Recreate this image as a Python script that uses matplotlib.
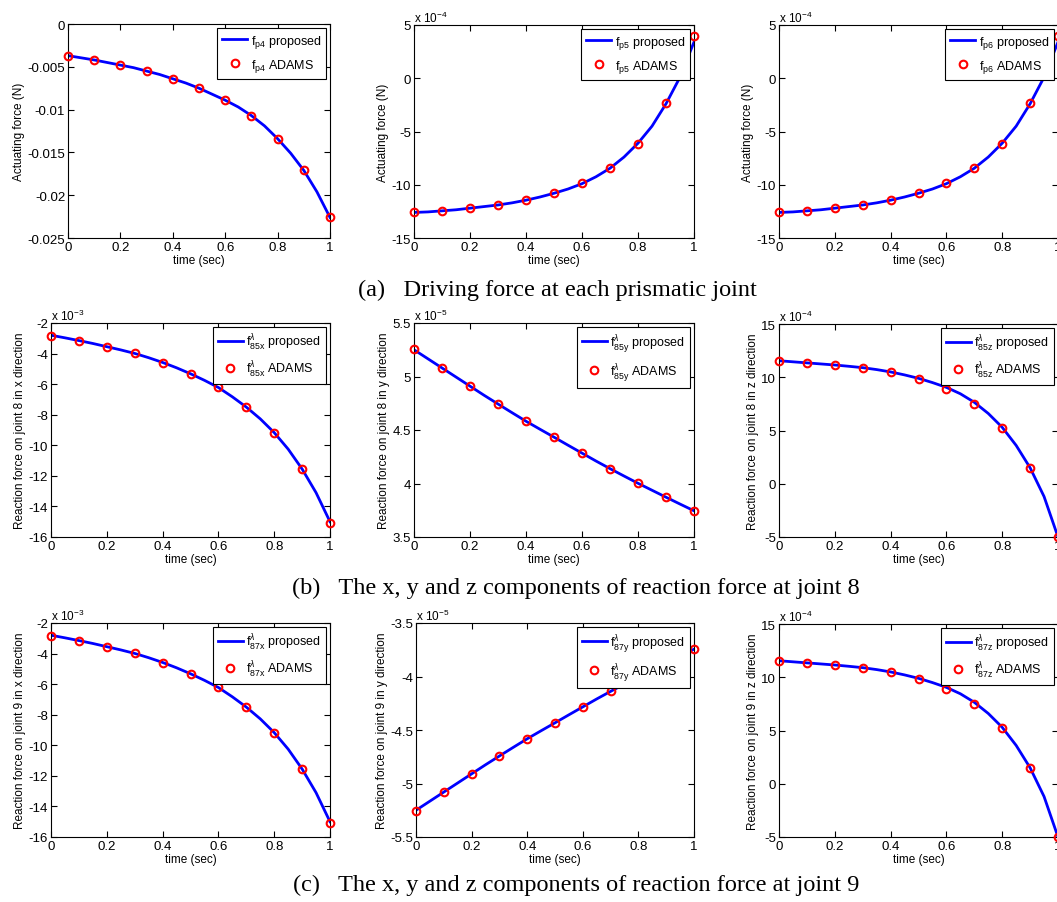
import numpy as np
import matplotlib
matplotlib.use("Agg")
import matplotlib.pyplot as plt

plt.rcParams["font.family"] = ["Liberation Sans", "DejaVu Sans"]
plt.rcParams["axes.unicode_minus"] = False
plt.rcParams["mathtext.fontset"] = "custom"
plt.rcParams["mathtext.rm"] = "Liberation Sans"
plt.rcParams["mathtext.it"] = "Liberation Sans:italic"
plt.rcParams["mathtext.bf"] = "Liberation Sans:bold"

W, H = 1057, 903

# time samples
t_mark = [0.0, 0.1, 0.2, 0.3, 0.4, 0.5, 0.6, 0.7, 0.8, 0.9, 1.0]
t_line = [0.0, 0.05, 0.1, 0.15, 0.2, 0.25, 0.3, 0.35, 0.4, 0.45, 0.5,
          0.55, 0.6, 0.65, 0.7, 0.75, 0.8, 0.85, 0.9, 0.95, 1.0]

# (a) driving forces
fp4_line = [-0.0037, -0.00395, -0.0042, -0.0045, -0.0048, -0.0051, -0.0055, -0.0059,
            -0.0064, -0.0069, -0.0075, -0.0082, -0.0089, -0.0097, -0.0107, -0.0119,
            -0.0134, -0.0151, -0.0171, -0.0196, -0.0226]
fp4_adams = [-0.0037, -0.0042, -0.0048, -0.0055, -0.0064, -0.0075, -0.0089,
             -0.0107, -0.0134, -0.0171, -0.0226]

fp5_line = [-12.6, -12.55, -12.45, -12.35, -12.2, -12.05, -11.9, -11.7, -11.45, -11.15,
            -10.8, -10.4, -9.9, -9.25, -8.45, -7.4, -6.1, -4.5, -2.4, 0.1, 3.4]
fp5_adams = [-12.6, -12.46, -12.2, -11.9, -11.46, -10.8, -9.87, -8.46, -6.15, -2.35, 3.93]

fp6_line = [-12.6, -12.55, -12.45, -12.35, -12.2, -12.05, -11.9, -11.7, -11.45, -11.15,
            -10.8, -10.4, -9.9, -9.25, -8.45, -7.4, -6.1, -4.5, -2.4, 0.1, 3.4]
fp6_adams = [-12.6, -12.46, -12.2, -11.9, -11.46, -10.8, -9.87, -8.46, -6.15, -2.35, 3.93]

# (b) reaction force at joint 8
f85x_line = [-2.8, -2.97, -3.15, -3.34, -3.55, -3.76, -3.99, -4.27, -4.58, -4.93, -5.32,
             -5.75, -6.22, -6.83, -7.5, -8.27, -9.17, -10.25, -11.55, -13.1, -15.0]
f85x_adams = [-2.83, -3.16, -3.55, -3.98, -4.59, -5.31, -6.21, -7.52, -9.17, -11.57, -15.08]

f85y_line = [5.25, 5.165, 5.08, 4.995, 4.91, 4.825, 4.743, 4.662, 4.582, 4.507, 4.433,
             4.358, 4.284, 4.21, 4.139, 4.07, 4.002, 3.937, 3.872, 3.808, 3.745]
f85y_adams = [5.258, 5.081, 4.911, 4.743, 4.582, 4.433, 4.284, 4.139, 4.002, 3.872, 3.745]

f85z_line = [11.55, 11.45, 11.35, 11.25, 11.15, 11.03, 10.9, 10.72, 10.5, 10.22, 9.9,
             9.5, 9.05, 8.45, 7.65, 6.6, 5.3, 3.6, 1.5, -1.2, -5.0]
f85z_adams = [11.49, 11.31, 11.12, 10.87, 10.46, 9.87, 8.9, 7.52, 5.23, 1.48, -5.0]

# (c) reaction force at joint 9
f87x_line = [-2.8, -2.97, -3.15, -3.34, -3.55, -3.76, -3.99, -4.27, -4.58, -4.93, -5.32,
             -5.75, -6.22, -6.83, -7.5, -8.27, -9.17, -10.25, -11.55, -13.1, -15.0]
f87x_adams = [-2.83, -3.16, -3.55, -3.98, -4.59, -5.31, -6.21, -7.52, -9.17, -11.57, -15.08]

f87y_line = [-5.25, -5.165, -5.08, -4.995, -4.91, -4.825, -4.743, -4.662, -4.582, -4.507,
             -4.433, -4.358, -4.284, -4.21, -4.139, -4.07, -4.002, -3.937, -3.872, -3.808,
             -3.745]
f87y_adams = [-5.255, -5.081, -4.911, -4.743, -4.582, -4.433, -4.284, -4.139, -4.002,
              -3.872, -3.742]

f87z_line = [11.55, 11.45, 11.35, 11.25, 11.15, 11.03, 10.9, 10.72, 10.5, 10.22, 9.9,
             9.5, 9.05, 8.45, 7.65, 6.6, 5.3, 3.6, 1.5, -1.2, -5.0]
f87z_adams = [11.49, 11.31, 11.12, 10.87, 10.46, 9.87, 8.9, 7.52, 5.23, 1.48, -5.0]

xticks = [0, 0.2, 0.4, 0.6, 0.8, 1]


def add_panel(box, y_line, y_mark, ylim, yticks, ylabel, sub, exp=None):
    left, top, right, bottom = box
    ax = fig.add_axes([left / W, 1 - bottom / H, (right - left) / W, (bottom - top) / H])
    ax.plot(t_line, y_line, color="#0000ff", lw=2, label=sub + " proposed", zorder=2)
    ax.plot(t_mark, y_mark, ls="none", marker="o", ms=5.5, mfc="none", mec="#ff0000",
            mew=1.5, label=sub + " ADAMS", clip_on=False, zorder=3)
    ax.set_xlim(0, 1)
    ax.set_ylim(*ylim)
    ax.set_xticks(xticks)
    ax.set_xticklabels(["%g" % v for v in xticks])
    ax.set_yticks(yticks)
    ax.set_yticklabels(["%g" % v for v in yticks])
    ax.tick_params(direction="in", length=4, width=0.8, top=True, right=True,
                   labelsize=9.5, pad=2)
    for s in ax.spines.values():
        s.set_linewidth(0.8)
    ax.set_xlabel("time (sec)", fontsize=8.5, labelpad=1)
    ax.set_ylabel(ylabel, fontsize=8.5, labelpad=2)
    if exp is not None:
        ax.text(0.0, 1.0, "x 10$^{%d}$" % exp, transform=ax.transAxes, ha="left",
                va="bottom", fontsize=8.5)
    leg = ax.legend(loc="upper right", fontsize=9, numpoints=1, handlelength=2.0,
                    handletextpad=0.3, borderaxespad=0.3, borderpad=0.4,
                    labelspacing=0.55, fancybox=False, framealpha=1, edgecolor="black")
    leg.get_frame().set_linewidth(0.8)
    leg.set_zorder(10)
    return ax


fig = plt.figure(figsize=(W / 100, H / 100), dpi=100)

# row (a)
add_panel((68, 25, 330, 239), fp4_line, fp4_adams, (-0.025, 0),
          [-0.025, -0.02, -0.015, -0.01, -0.005, 0], "Actuating force (N)",
          r"f$_{\rm p4}$")
add_panel((414, 26, 694, 239), fp5_line, fp5_adams, (-15, 5), [-15, -10, -5, 0, 5],
          "Actuating force (N)", r"f$_{\rm p5}$", exp=-4)
add_panel((779, 26, 1058, 239), fp6_line, fp6_adams, (-15, 5), [-15, -10, -5, 0, 5],
          "Actuating force (N)", r"f$_{\rm p6}$", exp=-4)

# row (b)
add_panel((51, 324, 330, 538), f85x_line, f85x_adams, (-16, -2),
          [-16, -14, -12, -10, -8, -6, -4, -2], "Reaction force on joint 8 in x direction",
          r"f$^{\lambda}_{\rm 85x}$", exp=-3)
add_panel((414, 324, 694, 538), f85y_line, f85y_adams, (3.5, 5.5),
          [3.5, 4, 4.5, 5, 5.5], "Reaction force on joint 8 in y direction",
          r"f$^{\lambda}_{\rm 85y}$", exp=-5)
add_panel((779, 325, 1058, 538), f85z_line, f85z_adams, (-5, 15), [-5, 0, 5, 10, 15],
          "Reaction force on joint 8 in z direction", r"f$^{\lambda}_{\rm 85z}$", exp=-4)

# row (c)
add_panel((51, 624, 330, 838), f87x_line, f87x_adams, (-16, -2),
          [-16, -14, -12, -10, -8, -6, -4, -2], "Reaction force on joint 9 in x direction",
          r"f$^{\lambda}_{\rm 87x}$", exp=-3)
add_panel((416, 624, 694, 838), f87y_line, f87y_adams, (-5.5, -3.5),
          [-5.5, -5, -4.5, -4, -3.5], "Reaction force on joint 9 in y direction",
          r"f$^{\lambda}_{\rm 87y}$", exp=-5)
add_panel((779, 625, 1058, 838), f87z_line, f87z_adams, (-5, 15), [-5, 0, 5, 10, 15],
          "Reaction force on joint 9 in z direction", r"f$^{\lambda}_{\rm 87z}$", exp=-4)

# captions
cap = dict(fontsize=17.5, family=["Liberation Serif", "DejaVu Serif"], va="center", ha="center")
fig.text(557 / W, 1 - 290 / H, "(a)   Driving force at each prismatic joint", **cap)
fig.text(576 / W, 1 - 588 / H, "(b)   The x, y and z components of reaction force at joint 8", **cap)
fig.text(576 / W, 1 - 885 / H, "(c)   The x, y and z components of reaction force at joint 9", **cap)

fig.savefig("out.png", dpi=100)
